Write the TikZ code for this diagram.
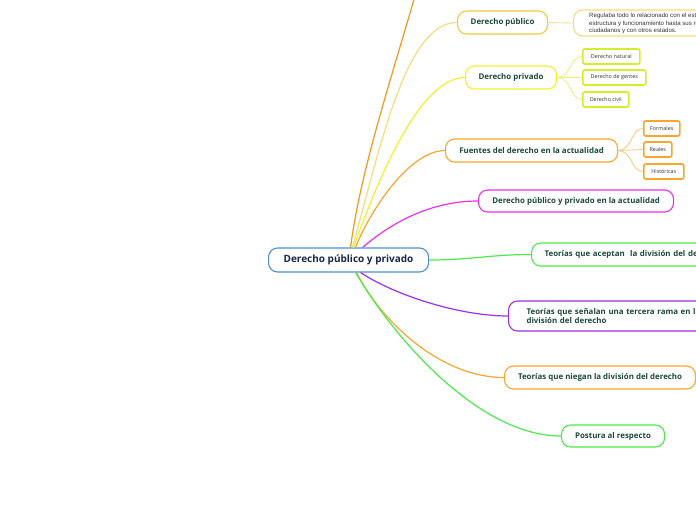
\documentclass[tikz,border=0pt]{standalone}
\usepackage{fontspec}
\setmainfont{Open Sans}
\newfontfamily\detfont{Liberation Sans}
\definecolor{mainblue}{HTML}{4A90D9}
\definecolor{navy}{HTML}{1A2648}
\definecolor{dgreen}{HTML}{1C4A3A}
\definecolor{gold}{HTML}{F5C93E}
\definecolor{goldl}{HTML}{F8DB80}
\definecolor{yel}{HTML}{F5F02E}
\definecolor{lime}{HTML}{D2F02A}
\definecolor{limel}{HTML}{E6F27A}
\definecolor{orng}{HTML}{F9A52E}
\definecolor{orngl}{HTML}{FAC877}
\definecolor{orngd}{HTML}{F5961E}
\definecolor{mag}{HTML}{EE2EEE}
\definecolor{grn}{HTML}{4CEB4C}
\definecolor{purp}{HTML}{9E2EEE}
\definecolor{txtg}{HTML}{333333}
\tikzset{
  bignode/.style={draw=#1, line width=1.1pt, rounded corners=9pt, fill=white, anchor=west,
    text=dgreen, font=\fontsize{7.9}{9.8}\selectfont\bfseries, inner sep=0pt},
  smallnode/.style={draw=#1, line width=1.6pt, rounded corners=2pt, fill=white, anchor=west,
    text=txtg, font=\fontsize{5.4}{6.5}\selectfont, inner sep=0pt, minimum height=15pt},
  conn/.style={draw=#1, line width=1.2pt},
  subconn/.style={draw=#1, line width=0.8pt},
}
\begin{document}
\begin{tikzpicture}[x=1pt,y=-1pt]
\useasboundingbox (0,0) rectangle (696,520);
\clip (0,0) rectangle (696,520);
\fill[white] (0,0) rectangle (696,520);
\coordinate (up) at (428,-50);
\node[draw=mainblue, line width=1.1pt, rounded corners=9pt, fill=white, anchor=west,
  minimum width=160pt, minimum height=24pt, inner sep=0pt, text=navy,
  font=\fontsize{10}{11}\selectfont\bfseries] (main) at (268,260) {Derecho público y privado};

\node[bignode=gold, minimum width=90pt, minimum height=23pt] (pub) at (457,22.5) {Derecho público};
\node[draw=goldl, line width=1.1pt, rounded corners=9pt, fill=white, anchor=west,
  minimum width=150pt, minimum height=26pt, inner sep=0pt] (det) at (573,23) {};
\node[anchor=west, align=left, text=txtg, font=\detfont\fontsize{6.1}{7.2}\selectfont, inner sep=0pt] (dett) at (589,23.5)
  {Regulaba todo lo relacionado con el estado, su\\estructura y funcionamiento hasta sus relaciones con los\\ciudadanos y con otros estados.};

\node[bignode=yel, minimum width=91pt, minimum height=23pt] (priv) at (465,77.5) {Derecho privado};
\node[smallnode=lime, minimum width=57pt] (nat) at (582,56.5) {Derecho natural};
\node[smallnode=lime, minimum width=63pt] (gen) at (582,77.5) {Derecho de gentes};
\node[smallnode=lime, minimum width=46pt] (civ) at (582,99.5) {Derecho civil};

\node[bignode=orng, minimum width=172pt, minimum height=23pt] (fue) at (445,150.5) {Fuentes del derecho en la actualidad};
\node[smallnode=orng, minimum width=36pt] (form) at (643,128.5) {Formales};
\node[smallnode=orng, minimum width=28pt] (real) at (643,149.5) {Reales};
\node[smallnode=orng, minimum width=40pt] (hist) at (643,171.5) {Históricas};

\node[bignode=mag, minimum width=195pt, minimum height=22pt] (act) at (478,201) {Derecho público y privado en la actualidad};
\node[bignode=grn, minimum width=200pt, minimum height=23pt, text width=186pt, align=left, inner xsep=13pt] (acep) at (531,254.5) {Teorías que aceptan \ la división del derecho};
\node[bignode=purp, minimum width=220pt, minimum height=30pt, text width=200pt, align=left, inner xsep=18pt] (ter) at (508,316) {Teorías que señalan una tercera rama en la\\división del derecho};
\node[bignode=orng, minimum width=191pt, minimum height=23pt] (nieg) at (504,377.5) {Teorías que niegan la división del derecho};
\node[bignode=grn, minimum width=103pt, minimum height=22pt] (post) at (561,436) {Postura al respecto};

% connectors
\draw[conn=orngd] ([xshift=2pt]main.north) .. controls (362,160) and (398,60) .. (up);
\draw[conn=goldl] ([xshift=4pt]main.north) .. controls +(30,-110) and +(-50,0) .. (pub.west);
\draw[conn=yel] ([xshift=5pt]main.north) .. controls +(25,-70) and +(-45,0) .. (priv.west);
\draw[conn=orng] ([xshift=7pt]main.north) .. controls +(15,-38) and +(-35,0) .. (fue.west);
\draw[conn=mag] ([xshift=14pt]main.north) .. controls +(28,-24) and +(-48,0) .. (act.west);
\draw[conn=grn] (main.east) .. controls +(42,0) and +(-41,0) .. (acep.west);
\draw[conn=purp] ([xshift=12pt]main.south) .. controls +(35,23) and +(-48,0) .. (ter.west);
\draw[conn=orng] ([xshift=8pt]main.south) .. controls +(24,48) and +(-64,0) .. (nieg.west);
\draw[conn=grn] ([xshift=7pt]main.south) .. controls +(40,68) and +(-81,0) .. (post.west);

\draw[subconn=goldl] (pub.east) -- (det.west);
\draw[subconn=limel] (priv.east) .. controls +(14,0) and +(-12,0) .. (nat.west);
\draw[subconn=limel] (priv.east) -- (gen.west);
\draw[subconn=limel] (priv.east) .. controls +(14,0) and +(-12,0) .. (civ.west);
\draw[subconn=orngl] (fue.east) .. controls +(14,0) and +(-12,0) .. (form.west);
\draw[subconn=orngl] (fue.east) -- (real.west);
\draw[subconn=orngl] (fue.east) .. controls +(14,0) and +(-12,0) .. (hist.west);
\end{tikzpicture}
\end{document}
